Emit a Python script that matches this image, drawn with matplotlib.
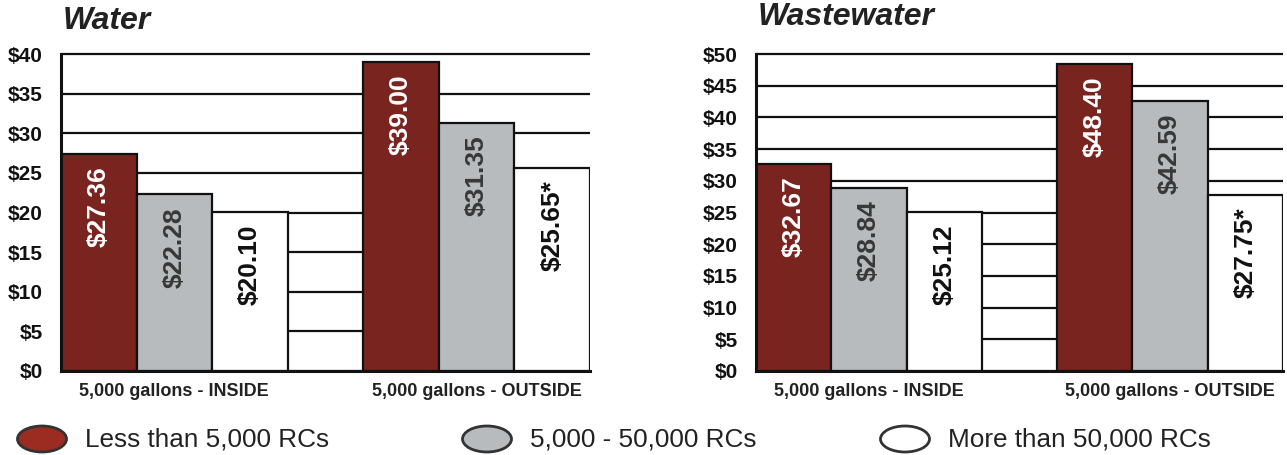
import matplotlib
matplotlib.use("Agg")
import matplotlib.pyplot as plt
from matplotlib.patches import Ellipse
import numpy as np

plt.rcParams['font.family'] = ['Liberation Sans', 'DejaVu Sans']

categories = ["5,000 gallons - INSIDE", "5,000 gallons - OUTSIDE"]
series_names = ["Less than 5,000 RCs", "5,000 - 50,000 RCs", "More than 50,000 RCs"]

water_small = [27.36, 39.00]
water_mid = [22.28, 31.35]
water_large = [20.10, 25.65]
water_large_labels = ["$20.10", "$25.65*"]

waste_small = [32.67, 48.40]
waste_mid = [28.84, 42.59]
waste_large = [25.12, 27.75]
waste_large_labels = ["$25.12", "$27.75*"]

water_ticks = [0, 5, 10, 15, 20, 25, 30, 35, 40]
waste_ticks = [0, 5, 10, 15, 20, 25, 30, 35, 40, 45, 50]

bar_colors = ["#7a2420", "#b7bbbd", "#ffffff"]
text_colors = ["#ffffff", "#383838", "#111111"]
legend_colors = ["#9c2b22", "#b7bbbd", "#ffffff"]

W, H = 1287, 455
fig = plt.figure(figsize=(W / 100, H / 100), dpi=100)


def panel(rect, title, title_y, small, mid, large, large_labels, ticks):
    ax = fig.add_axes(rect)
    centers = np.array([0.0, 4.0])
    series = [small, mid, large]
    for i, vals in enumerate(series):
        xs = centers + (i - 1)
        bars = ax.bar(xs, vals, width=1.0, color=bar_colors[i], edgecolor="#111111",
                      linewidth=1.6, zorder=3)
        for j, b in enumerate(bars):
            if i == 2:
                lab = large_labels[j]
            else:
                lab = "${:.2f}".format(vals[j])
            ax.annotate(lab, (b.get_x() + b.get_width() / 2, b.get_height()),
                        xytext=(0, -9), textcoords="offset points",
                        rotation=90, ha="center", va="top", fontsize=19,
                        fontweight="bold", color=text_colors[i], zorder=4)
    ax.set_xlim(-1.5, 5.5)
    ax.set_ylim(0, ticks[-1])
    ax.set_yticks(ticks)
    ax.set_yticklabels(["${}".format(t) for t in ticks], fontsize=15, fontweight="bold",
                       color="#111111")
    ax.set_xticks(centers)
    ax.set_xticklabels(categories, fontsize=13, fontweight="bold", color="#222222")
    ax.tick_params(axis="y", length=0, pad=13)
    ax.tick_params(axis="x", length=0, pad=9)
    ax.set_axisbelow(True)
    ax.yaxis.grid(True, color="#111111", linewidth=1.6)
    for gl in ax.get_ygridlines():
        gl.set_clip_on(False)
        gl.set_solid_capstyle("butt")
    for s in ["top", "right"]:
        ax.spines[s].set_visible(False)
    for s in ["left", "bottom"]:
        ax.spines[s].set_linewidth(2.2)
        ax.spines[s].set_color("#111111")
        ax.spines[s].set_zorder(5)
    fig.text(rect[0] + 2 / W, 1 - title_y / H, title, fontsize=23, fontweight="bold",
             fontstyle="italic", color="#222222", ha="left", va="center")
    return ax


panel([61 / W, 1 - 371 / H, 529 / W, 317 / H], "Water", 21,
      water_small, water_mid, water_large, water_large_labels, water_ticks)
panel([756 / W, 1 - 371 / H, 527 / W, 317 / H], "Wastewater", 17,
      waste_small, waste_mid, waste_large, waste_large_labels, waste_ticks)

# legend
legend_x = [42, 487, 905]
for cx, col, name in zip(legend_x, legend_colors, series_names):
    e = Ellipse((cx / W, 1 - 439 / H), 49 / W, 26 / H, transform=fig.transFigure,
                facecolor=col, edgecolor="#333333", linewidth=2)
    fig.add_artist(e)
    fig.text((cx + 43) / W, 1 - 439 / H, name, fontsize=18.8, color="#222222",
             ha="left", va="center")

fig.savefig("out.png", dpi=100)
